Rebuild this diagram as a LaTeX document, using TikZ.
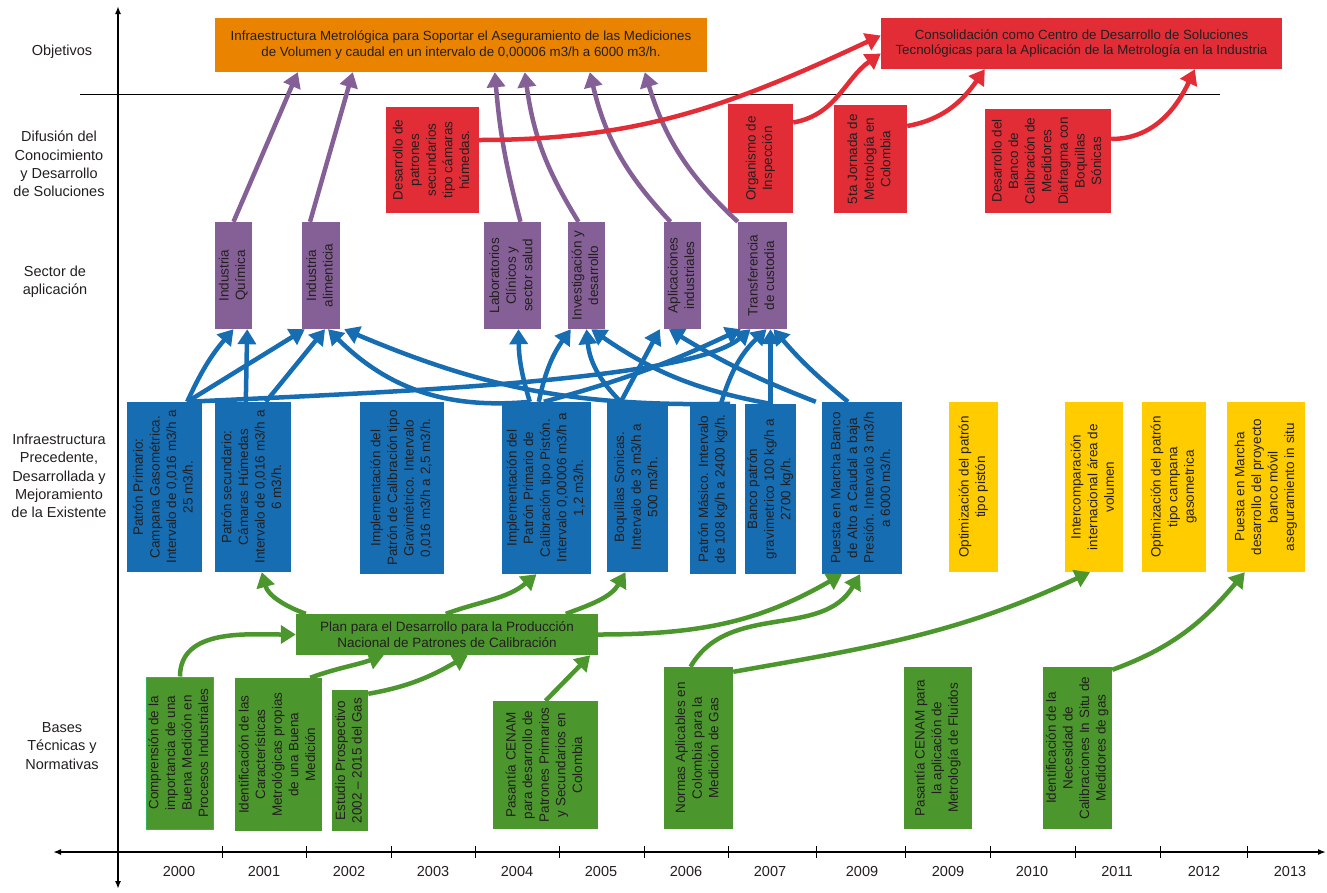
\documentclass[tikz,border=0pt]{standalone}
\usepackage{fontspec}
\setmainfont{Liberation Sans}
\usepackage{graphicx}
\usetikzlibrary{arrows.meta}
\usetikzlibrary{positioning}

\definecolor{objnaranja}{RGB}{233,131,0}
\definecolor{rojo}{RGB}{227,45,54}
\definecolor{morado}{RGB}{133,96,150}
\definecolor{azul}{RGB}{22,109,178}
\definecolor{amarillo}{RGB}{255,204,0}
\definecolor{verde}{RGB}{76,150,46}
\definecolor{verdeclaro}{RGB}{50,180,90}
\definecolor{texto}{RGB}{35,31,32}

% vertical text inside a box
\newcommand{\vt}[1]{\rotatebox{90}{\begin{tabular}{@{}c@{}}#1\end{tabular}}}

\tikzset{
	caja/.style={inner sep=0pt, text=texto, font=\fontsize{13.5}{16.6}\selectfont},
	cajaobj/.style={caja, align=center, font=\fontsize{13.3}{15.8}\selectfont},
	etiqueta/.style={align=center, text=texto, font=\fontsize{14.5}{18.3}\selectfont},
	flecha/.style={line width=4.5pt, -{Triangle[length=15pt,width=18pt]}},
}

\begin{document}
\begin{tikzpicture}[x=1pt,y=1pt]
	\useasboundingbox (0,0) rectangle (1327,-892);
	%% Axes
	\draw[line width=1.8pt, {Latex[length=8pt]}-{Latex[length=8pt]}] (118,-889) -- (118,-6);
	\draw[line width=1.8pt, {Latex[length=8pt]}-{Latex[length=8pt]}] (53,-852) -- (1326,-852);
	\draw[line width=0.8pt] (80,-94) -- (1220,-94);
	\foreach \x in {222,306,391,475,559,644,728,816,905,990,1075,1160,1247}
		\draw[line width=1pt] (\x,-846) -- (\x,-858);
	\foreach \x/\a [count=\n] in {179/2000,264/2001,349/2002,433/2003,517/2004,601/2005,686/2006,770/2007,862/2009,948/2009,1032/2010,1117/2011,1204/2012,1290/2013}
		\path (\x,-871) node(anio\n) [etiqueta] {\a};

	%% Row labels
	\path (62,-52) node(lobj) [etiqueta] {Objetivos};
	\path (59,-164) node(ldif) [etiqueta] {Difusión del\\Conocimiento\\y Desarrollo\\de Soluciones};
	\path (55,-282) node(lsec) [etiqueta] {Sector de\\aplicación};
	\path (59,-476) node(linf) [etiqueta] {Infraestructura\\Precedente,\\Desarrollada y\\Mejoramiento\\de la Existente};
	\path (62,-746) node(lbas) [etiqueta] {Bases\\Técnicas y\\Normativas};

	%% Objetivos
	\path (461,-45) node(obj1) [cajaobj, fill=objnaranja, minimum width=492, minimum height=54]
		{Infraestructura Metrológica para Soportar el Aseguramiento de las Mediciones\\de Volumen y caudal en un intervalo de 0,00006 m3/h a 6000 m3/h.};
	\path (1081.5,-43.5) node(obj2) [cajaobj, fill=rojo, minimum width=401, minimum height=51]
		{Consolidación como Centro de Desarrollo de Soluciones\\Tecnológicas para la Aplicación de la Metrología en la Industria};

	%% Difusion
	\path (432.5,-160) node(dif1) [caja, fill=rojo, minimum width=93, minimum height=106]
		{\vt{Desarrollo de\\patrones\\secundarios\\tipo cámaras\\húmedas.}};
	\path (760.5,-158.5) node(dif2) [caja, fill=rojo, minimum width=65, minimum height=109]
		{\vt{Organismo de\\Inspección}};
	\path (870.5,-159) node(dif3) [caja, fill=rojo, minimum width=73, minimum height=108]
		{\vt{5ta Jornada de\\Metrología en\\Colombia}};
	\path (1048,-161) node(dif4) [caja, fill=rojo, minimum width=126, minimum height=104]
		{\vt{Desarrollo del\\Banco de\\Calibración de\\Medidores\\Diafragma con\\Boquillas\\Sónicas}};

	%% Sector de aplicacion
	\path (233.5,-275.5) node(sec1) [caja, fill=morado, minimum width=37, minimum height=107]
		{\vt{Industria\\Química}};
	\path (321,-275.5) node(sec2) [caja, fill=morado, minimum width=38, minimum height=107]
		{\vt{Industria\\alimenticia}};
	\path (512.5,-275.5) node(sec3) [caja, fill=morado, minimum width=57, minimum height=107]
		{\vt{Laboratorios\\Clínicos y\\sector salud}};
	\path (586.5,-275.5) node(sec4) [caja, fill=morado, minimum width=37, minimum height=107]
		{\vt{Investigación y\\desarrollo}};
	\path (682.5,-275.5) node(sec5) [caja, fill=morado, minimum width=37, minimum height=107]
		{\vt{Aplicaciones\\industriales}};
	\path (762.5,-275.5) node(sec6) [caja, fill=morado, minimum width=49, minimum height=107]
		{\vt{Transferencia\\de custodia}};

	%% Infraestructura
	\path (164.5,-487) node(inf1) [caja, fill=azul, minimum width=75, minimum height=170]
		{\vt{Patrón Primario:\\Campana Gasométrica.\\Intervalo de 0,016 m3/h a\\25 m3/h.}};
	\path (253,-487) node(inf2) [caja, fill=azul, minimum width=76, minimum height=170]
		{\vt{Patrón secundario:\\Cámaras Húmedas\\Intervalo de 0,016 m3/h a\\6 m3/h.}};
	\path (402,-488) node(inf3) [caja, fill=azul, minimum width=84, minimum height=172]
		{\vt{Implementación del\\Patrón de Calibración tipo\\Gravimétrico. Intervalo\\0,016 m3/h a 2,5 m3/h.}};
	\path (546.5,-488) node(inf4) [caja, fill=azul, minimum width=89, minimum height=172]
		{\vt{Implementación del\\Patrón Primario de\\Calibración tipo Pistón.\\Intervalo 0,00006 m3/h a\\1,2 m3/h.}};
	\path (637.5,-487) node(inf5) [caja, fill=azul, minimum width=61, minimum height=170]
		{\vt{Boquillas Sonicas.\\Intervalo de 3 m3/h a\\500 m3/h.}};
	\path (713,-489) node(inf6) [caja, fill=azul, minimum width=46, minimum height=170]
		{\vt{Patrón Másico. Intervalo\\de 108 kg/h a 2400 kg/h.}};
	\path (770.5,-489) node(inf7) [caja, fill=azul, minimum width=51, minimum height=170]
		{\vt{Banco patrón\\gravimetrico 100 kg/h a\\2700 kg/h.}};
	\path (862,-488) node(inf8) [caja, fill=azul, minimum width=80, minimum height=172]
		{\vt{Puesta en Marcha Banco\\de Alto a Caudal a baja\\Presión. Intervalo 3 m3/h\\a 6000 m3/h.}};
	% Mejoramiento
	\path (973.5,-487) node(mej1) [caja, fill=amarillo, minimum width=49, minimum height=170]
		{\vt{Optimización del patrón\\tipo pistón}};
	\path (1094,-487) node(mej2) [caja, fill=amarillo, minimum width=58, minimum height=170]
		{\vt{Intercomparación\\internacional área de\\volumen}};
	\path (1174,-487) node(mej3) [caja, fill=amarillo, minimum width=64, minimum height=170]
		{\vt{Optimización del patrón\\tipo campana\\gasometrica}};
	\path (1266,-487) node(mej4) [caja, fill=amarillo, minimum width=78, minimum height=170]
		{\vt{Puesta en Marcha\\desarrollo del proyecto\\banco móvil\\aseguramiento in situ}};

	%% Plan
	\path (447,-634.5) node(plan) [caja, align=center, fill=verde, minimum width=302, minimum height=41]
		{Plan para el Desarrollo para la Producción\\Nacional de Patrones de Calibración};

	%% Bases
	\path (180,-753) node(bas1) [caja, fill=verde, draw=verdeclaro, line width=1pt, minimum width=66, minimum height=152]
		{\vt{Comprensión de la\\importancia de una\\Buena Medición en\\Procesos Industriales}};
	\path (278.5,-754.5) node(bas2) [caja, fill=verde, minimum width=87, minimum height=153]
		{\vt{Identificación de las\\Características\\Metrológicas propias\\de una Buena\\Medición}};
	\path (350,-760.5) node(bas3) [caja, fill=verde, minimum width=36, minimum height=141]
		{\vt{Estudio Prospectivo\\2002 -- 2015 del Gas}};
	\path (545.5,-765) node(bas4) [caja, fill=verde, minimum width=105, minimum height=128]
		{\vt{Pasantía CENAM\\para desarrollo de\\Patrones Primarios\\y Secundarios en\\Colombia}};
	\path (698.5,-748) node(bas5) [caja, fill=verde, minimum width=69, minimum height=162]
		{\vt{Normas Aplicables en\\Colombia para la\\Medición de Gas}};
	\path (938,-748) node(bas6) [caja, fill=verde, minimum width=68, minimum height=162]
		{\vt{Pasantía CENAM para\\la aplicación de\\Metrología de Fluidos}};
	\path (1077.5,-748) node(bas7) [caja, fill=verde, minimum width=69, minimum height=162]
		{\vt{Identificación de la\\Necesidad de\\Calibraciones In Situ de\\Medidores de gas}};

	%% Drawing Connecting Arrows
	% sector -> objetivo
	\draw[flecha, morado] (sec1.north) -- ([xshift=83]obj1.south west);
	\draw[flecha, morado] ([xshift=-11]sec2.north) -- ([xshift=138]obj1.south west);
	\draw[flecha, morado] ([xshift=8]sec3.north) to[bend left=5] ([xshift=280]obj1.south west);
	\draw[flecha, morado] ([xshift=-8]sec4.north) to[bend left=12] ([xshift=310]obj1.south west);
	\draw[flecha, morado] ([xshift=-12]sec5.north) to[bend left=15] ([xshift=375]obj1.south west);
	\draw[flecha, morado] (sec6.north west) to[bend left=15] ([xshift=430]obj1.south west);
	% difusion -> objetivo
	\draw[flecha, rojo] ([yshift=20]dif1.east) to[out=0, in=-155] ([yshift=8]obj2.west);
	\draw[flecha, rojo] ([yshift=36]dif2.east) to[out=10, in=-145] ([yshift=-10]obj2.west);
	\draw[flecha, rojo] ([yshift=33]dif3.east) to[out=10, in=-125] ([xshift=104]obj2.south west);
	\draw[flecha, rojo] ([yshift=22]dif4.east) to[out=0, in=-115] ([xshift=314]obj2.south west);
	% infraestructura -> sector
	\draw[flecha, azul] ([xshift=-15]inf1.north east) to[bend left=8] (sec1.south);
	\draw[flecha, azul] ([xshift=-15]inf1.north east) -- ([xshift=3]sec2.south west);
	\draw[flecha, azul] ([xshift=-15]inf1.north east) .. controls +(213,10) and +(-60,-51) .. ([xshift=-12]sec6.south);
	\draw[flecha, azul] ([xshift=31]inf2.north west) -- ([xshift=-5]sec1.south east);
	\draw[flecha, azul] ([xshift=51]inf2.north west) -- ([xshift=4]sec2.south);
	\draw[flecha, azul] ([xshift=28]inf4.north west) to[bend left=25] ([xshift=7]sec2.south);
	\draw[flecha, azul] ([xshift=28]inf4.north west) to[bend left=8] ([xshift=6]sec3.south);
	\draw[flecha, azul] ([xshift=37]inf4.north west) to[bend left=12] ([xshift=3]sec4.south west);
	\draw[flecha, azul] ([xshift=42]inf4.north west) to[bend right=5] ([xshift=3]sec6.south west);
	\draw[flecha, azul] ([xshift=14]inf5.north west) to[bend left=20] (sec4.south);
	\draw[flecha, azul] ([xshift=14]inf5.north west) -- ([xshift=-4]sec5.south west);
	\draw[flecha, azul] ([xshift=-6]inf6.north east) to[bend left=12] ([xshift=4]sec2.south east);
	\draw[flecha, azul] ([xshift=8]inf6.north) to[bend left=15] ([xshift=4]sec6.south);
	\draw[flecha, azul] (inf7.north) to[bend left=12] ([xshift=-14]sec4.south east);
	\draw[flecha, azul] (inf7.north) -- (inf7.north |- sec6.south);
	\draw[flecha, azul] ([xshift=-6]inf8.north west) to[bend left=5] ([xshift=5]sec5.south west);
	\draw[flecha, azul] ([xshift=-14]inf8.north) to[bend left=5] ([xshift=11]sec6.south);
	% plan y bases
	\draw[flecha, verde] (bas1.north) to[out=90, in=180] (plan.west);
	\draw[flecha, verde] ([xshift=10]plan.north west) to[out=160, in=-75] ([xshift=47]inf2.south west);
	\draw[flecha, verde] ([xshift=150]plan.north west) to[out=20, in=-140] ([xshift=-10]inf4.south);
	\draw[flecha, verde] ([xshift=270]plan.north west) to[out=20, in=-120] ([xshift=-12]inf5.south);
	\draw[flecha, verde] (plan.east) to[out=0, in=-150] ([xshift=-20]inf8.south);
	\draw[flecha, verde] ([xshift=-12]bas2.north east) to[out=20, in=-160] ([xshift=88]plan.south west);
	\draw[flecha, verde] ([yshift=-4]bas3.north east) to[out=10, in=-150] ([xshift=172]plan.south west);
	\draw[flecha, verde] (bas4.north) -- ([xshift=-8]plan.south east);
	\draw[flecha, verde] ([xshift=-8]bas5.north) to[out=60, in=-120] ([xshift=-2]inf8.south);
	\draw[flecha, verde] ([yshift=-5]bas5.north east) to[out=10, in=-155] ([xshift=-4]mej2.south);
	\draw[flecha, verde] ([yshift=-3]bas7.north east) to[out=20, in=-130] ([xshift=18]mej4.south west);
\end{tikzpicture}
\end{document}
